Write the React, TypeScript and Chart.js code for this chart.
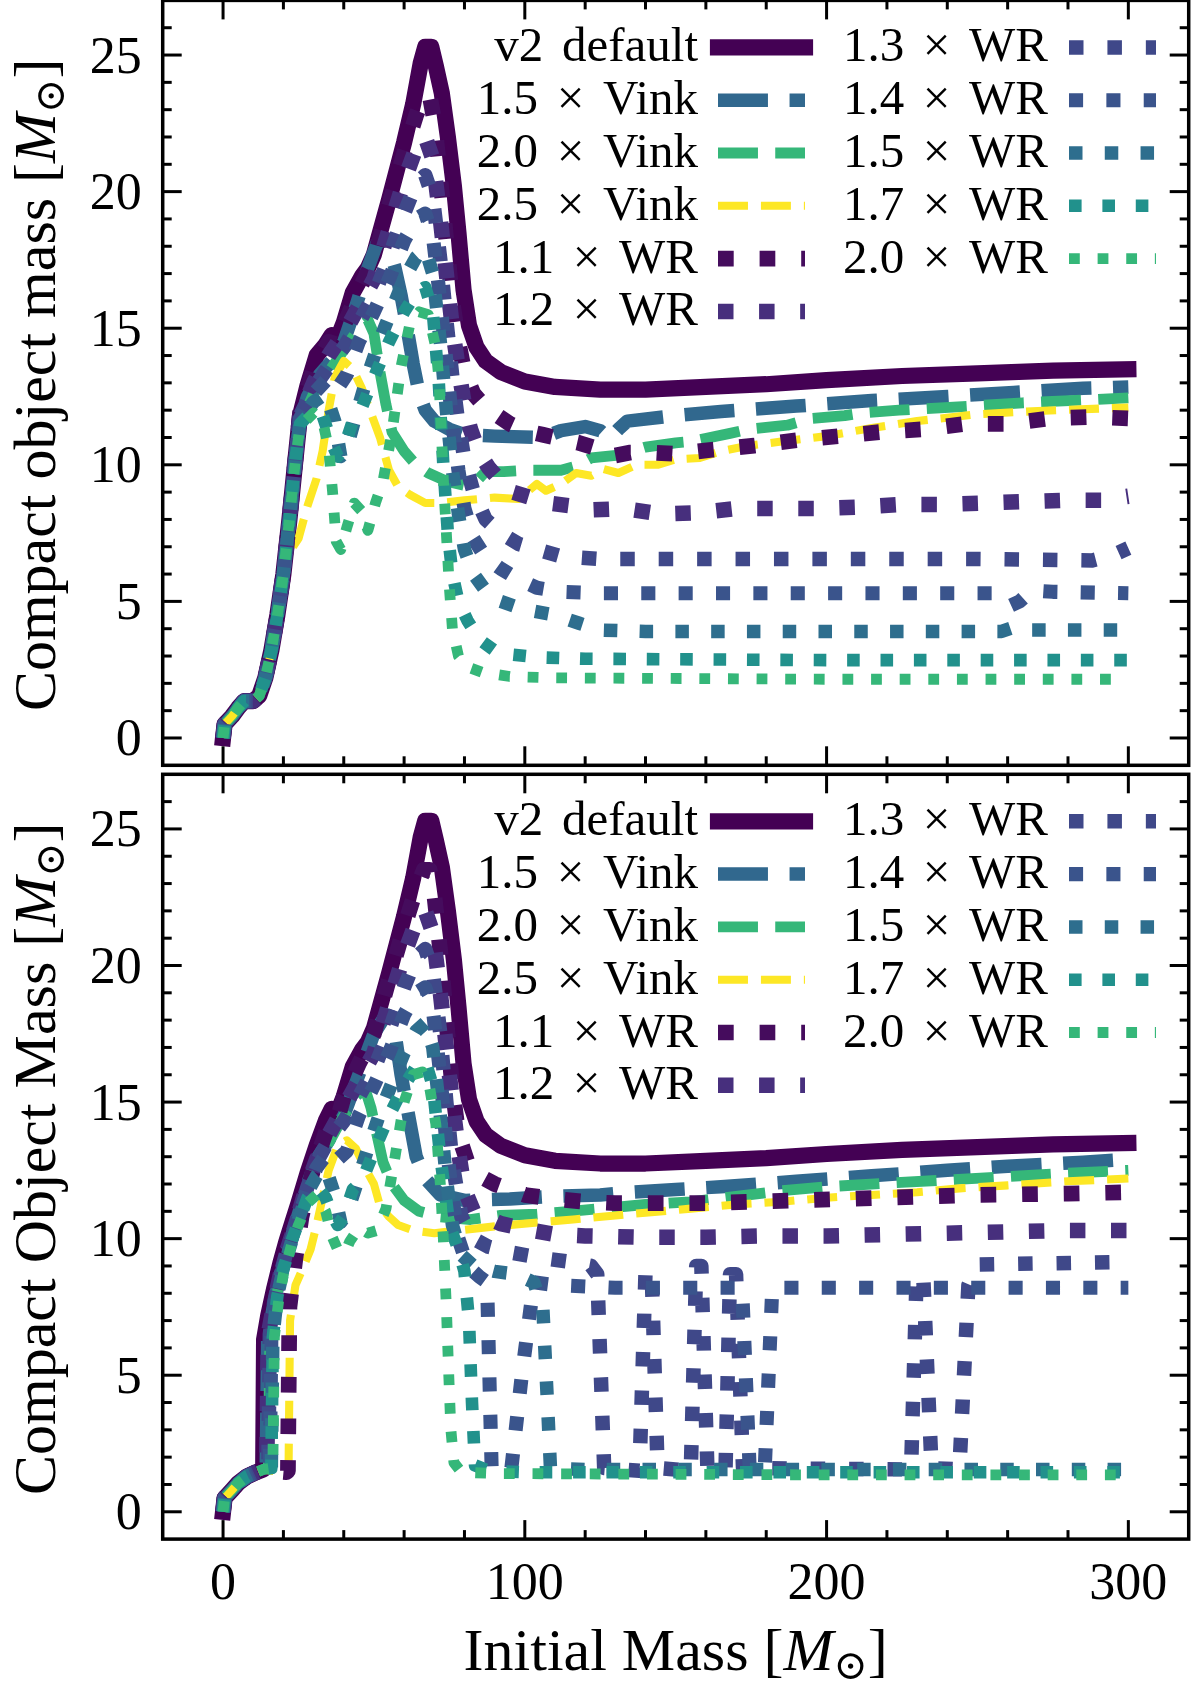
import { useEffect, useRef } from "react";
import { Chart, registerables } from "chart.js";

Chart.register(...registerables);

type Pt = [number, number];

const SERIF = '"Liberation Serif", "DejaVu Serif", serif';

// axes
const xMin = -20;
const xMax = 320;
const yMin = -1;
const yMax = 27;
const xMajor = [0, 100, 200, 300];
const xMinor = [20, 40, 60, 80, 120, 140, 160, 180, 220, 240, 260, 280];
const yMajor = [0, 5, 10, 15, 20, 25];
const yMinor = [1, 2, 3, 4, 6, 7, 8, 9, 11, 12, 13, 14, 16, 17, 18, 19, 21, 22, 23, 24, 26];

// series (same order in both panels)
const labels = [
  "v2 default",
  "1.5 × Vink",
  "2.0 × Vink",
  "2.5 × Vink",
  "1.1 × WR",
  "1.2 × WR",
  "1.3 × WR",
  "1.4 × WR",
  "1.5 × WR",
  "1.7 × WR",
  "2.0 × WR",
];
const colors = [
  "#440154", "#31688e", "#35b779", "#fde725",
  "#450c5d", "#472f7d", "#3f4889", "#3a548c", "#2e6e8e", "#21918c", "#35b779",
];
const widths = [16.2, 13.5, 10.8, 8.1, 15.7, 15.5, 14.5, 14.1, 13.5, 12.6, 10.8];
const kinds = [
  "solid", "dashed", "dashed", "dashed",
  "dotted", "dotted", "dotted", "dotted", "dotted", "dotted", "dotted",
];

// ---- top panel ----
const topRise: Pt[] = [[0, 0], [0.5, 0.5], [3, 0.8], [5, 1.1], [7, 1.35], [10, 1.35], [12, 1.55], [14, 2.2], [16, 3.2], [18, 4.5], [20, 6.0], [22, 8.0], [24, 10.2]];

const v2Tail: Pt[] = [[36, 14.75], [37.5, 14.5], [40, 15.2], [43, 16.3], [46, 16.9], [48, 17.2], [50, 17.7], [55, 19.7], [60, 21.8], [63, 23.2], [65.5, 24.7], [67, 25.3], [69, 25.3], [70.5, 24.6], [72.5, 23.6], [74.5, 22.0], [76.5, 20.2], [78, 18.5], [79.7, 16.4], [81.5, 15.1], [84, 14.3], [87, 13.8], [92, 13.4], [100, 13.05], [110, 12.85], [125, 12.75], [140, 12.75], [160, 12.85], [180, 12.95], [200, 13.1], [225, 13.25], [250, 13.35], [275, 13.45], [300, 13.5]];

const topV2: Pt[] = [...topRise, [25.5, 11.8], [28, 12.9], [31, 14.0], [34, 14.4], ...v2Tail];
const topVink15: Pt[] = [...topRise, [25.5, 11.6], [28, 12.5], [32, 13.3], [36, 13.8], [40, 14.5], [44, 15.8], [48, 17.2], [51, 18.1], [53, 18.3], [55, 18.0], [57, 17.2], [59, 16.2], [61, 15.0], [63, 13.7], [65, 12.6], [67, 12.0], [70, 11.6], [75, 11.3], [80, 11.1], [90, 11.05], [106, 11.0], [112, 11.25], [120, 11.4], [125, 11.25], [128, 10.95], [131, 11.3], [134, 11.6], [150, 11.8], [165, 11.95], [190, 12.15], [215, 12.35], [240, 12.5], [262, 12.65], [285, 12.8], [300, 12.85]];
const topVink20: Pt[] = [...topRise, [25.5, 11.5], [30, 12.6], [35, 13.4], [40, 14.2], [45, 15.0], [48, 15.3], [50, 14.8], [52, 13.4], [54, 12.2], [56, 11.2], [60, 10.5], [64, 10.0], [68, 9.7], [74, 9.4], [80, 9.25], [84, 9.4], [87, 9.75], [93, 9.75], [100, 9.8], [112, 9.8], [117, 9.95], [122, 10.25], [131, 10.35], [140, 10.65], [150, 10.8], [155, 10.85], [168, 11.15], [174, 11.3], [187, 11.45], [195, 11.7], [206, 11.8], [212, 11.9], [224, 12.0], [245, 12.13], [265, 12.27], [285, 12.37], [300, 12.45]];
const topVink25: Pt[] = [[0, 0], [0.5, 0.5], [3, 0.8], [5, 1.1], [7, 1.35], [10, 1.35], [12, 1.55], [14, 2.2], [16, 3.2], [18, 4.5], [20, 5.8], [22, 6.8], [25, 7.3], [28, 8.5], [31, 9.5], [33, 10.5], [35, 12.0], [37, 13.2], [40, 13.8], [43, 13.5], [46, 12.8], [49, 11.9], [52, 11.0], [55, 9.8], [58, 9.2], [62, 8.9], [67, 8.6], [72, 8.6], [80, 8.7], [90, 8.8], [98, 8.75], [104, 9.3], [107, 9.05], [112, 9.3], [117, 9.7], [122, 9.6], [126, 9.85], [131, 9.7], [137, 10.0], [144, 10.0], [150, 10.2], [158, 10.25], [165, 10.5], [174, 10.7], [185, 10.85], [200, 11.05], [215, 11.35], [230, 11.6], [250, 11.85], [270, 11.97], [300, 12.1]];
const topWr11: Pt[] = [...topRise, [25.5, 11.9], [30, 13.5], [35, 14.5], [38, 14.4], [40, 15.1], [45, 16.4], [50, 17.5], [55, 19.5], [60, 21.4], [64, 22.8], [66.5, 23.5], [68.5, 23.5], [70, 22.6], [72, 20.5], [74, 18.2], [76, 16.0], [78, 14.5], [80, 13.4], [83, 12.6], [87, 12.1], [91, 11.8], [95, 11.5], [100, 11.25], [106, 11.1], [112, 10.95], [118, 10.8], [124, 10.6], [128, 10.3], [135, 10.45], [142, 10.45], [150, 10.4], [162, 10.55], [176, 10.7], [190, 10.9], [204, 11.05], [218, 11.2], [232, 11.3], [246, 11.5], [260, 11.5], [274, 11.7], [288, 11.75], [300, 11.7]];
const topWr12: Pt[] = [...topRise, [25.5, 11.8], [30, 13.0], [35, 14.0], [40, 14.8], [45, 15.8], [50, 16.8], [55, 18.6], [60, 20.4], [64, 21.6], [67, 22.0], [69.5, 21.2], [72, 19.0], [74, 17.0], [76, 15.0], [78, 13.5], [80, 12.2], [82, 11.3], [85, 10.4], [88, 9.9], [92, 9.4], [96, 9.0], [102, 8.8], [108, 8.6], [115, 8.5], [122, 8.35], [133, 8.4], [145, 8.2], [158, 8.25], [170, 8.4], [184, 8.4], [197, 8.4], [210, 8.45], [225, 8.55], [238, 8.55], [252, 8.6], [265, 8.65], [278, 8.7], [291, 8.7], [300, 8.85]];
const topWr13: Pt[] = [...topRise, [25.5, 11.8], [30, 12.8], [35, 13.6], [40, 14.3], [45, 15.2], [50, 16.2], [55, 17.6], [60, 19.2], [64, 20.3], [67, 20.6], [69.5, 19.8], [72, 17.5], [74, 15.3], [76, 13.2], [78, 11.5], [80, 10.2], [83, 9.0], [87, 8.0], [92, 7.5], [98, 7.1], [104, 6.9], [112, 6.65], [125, 6.55], [200, 6.55], [250, 6.55], [288, 6.5], [295, 6.7], [300, 6.95]];
const topWr14: Pt[] = [...topRise, [25.5, 11.7], [30, 12.6], [35, 13.2], [38, 12.8], [41, 13.3], [45, 14.5], [50, 15.6], [55, 16.8], [60, 18.2], [64, 19.0], [67, 19.2], [69.5, 18.4], [72, 16.0], [74, 13.8], [76, 11.5], [78, 9.8], [80, 8.4], [83, 7.3], [87, 6.6], [92, 6.2], [98, 5.8], [104, 5.5], [112, 5.35], [125, 5.3], [200, 5.3], [255, 5.3], [258, 5.05], [261, 4.85], [264, 5.0], [268, 5.4], [275, 5.35], [300, 5.3]];
const topWr15: Pt[] = [...topRise, [25.5, 11.6], [30, 12.3], [34, 12.6], [37, 11.6], [39, 10.3], [41, 10.6], [44, 11.8], [48, 13.3], [52, 14.6], [56, 15.7], [60, 16.8], [64, 17.6], [67, 17.9], [69.5, 17.0], [72, 14.5], [74, 12.0], [76, 9.8], [78, 8.2], [80, 6.9], [83, 6.0], [87, 5.4], [92, 5.0], [100, 4.7], [110, 4.5], [118, 4.2], [125, 3.95], [140, 3.9], [200, 3.9], [258, 3.9], [262, 4.05], [266, 3.95], [300, 3.95]];
const topWr17: Pt[] = [...topRise, [25.5, 11.5], [30, 12.0], [33, 11.8], [36, 10.8], [38, 10.3], [40, 10.6], [43, 11.6], [46, 12.1], [50, 13.2], [55, 14.5], [60, 15.6], [64, 16.3], [67, 16.5], [69.5, 15.6], [71.5, 13.0], [73, 10.0], [74.5, 7.5], [76, 6.0], [78, 5.0], [81, 4.3], [85, 3.6], [90, 3.2], [96, 3.05], [105, 2.95], [120, 2.9], [200, 2.85], [300, 2.85]];
const topWr20: Pt[] = [...topRise, [25.5, 11.4], [30, 11.9], [33, 11.6], [35, 10.6], [36.3, 9.0], [37.5, 7.2], [39, 6.9], [41, 7.7], [43.5, 8.6], [46, 8.3], [48, 7.6], [50.5, 8.6], [53, 9.4], [56, 11.2], [59, 13.6], [62, 15.2], [65, 15.6], [68, 15.5], [70.5, 14.3], [71.5, 13.2], [72.3, 11.3], [73, 9.5], [74, 7.5], [75, 5.5], [76, 4.0], [78, 3.0], [81, 2.6], [86, 2.4], [95, 2.25], [110, 2.2], [200, 2.15], [300, 2.15]];

// ---- bottom panel ----
const bottomRise: Pt[] = [[0, 0], [0.5, 0.5], [3, 0.8], [5, 1.05], [8, 1.3], [11, 1.45], [13.3, 1.55]];

const botV2: Pt[] = [...bottomRise, [13.6, 6.3], [15, 7.2], [17, 8.2], [19, 9.1], [21, 9.9], [23, 10.6], [25, 11.3], [28, 12.4], [31, 13.4], [34, 14.3], ...v2Tail];
const botVink15: Pt[] = [...bottomRise, [14.3, 1.6], [14.8, 6.4], [17, 7.7], [19, 8.7], [21, 9.5], [23, 10.2], [25, 10.9], [28, 12.0], [31, 12.9], [35, 13.6], [40, 14.5], [45, 16.0], [50, 17.5], [54, 18.2], [57, 17.5], [59, 16.0], [61, 14.8], [64, 13.0], [67, 12.2], [72, 11.6], [80, 11.4], [95, 11.45], [110, 11.55], [125, 11.6], [135, 11.7], [150, 11.8], [165, 11.9], [190, 12.1], [215, 12.3], [240, 12.5], [260, 12.65], [285, 12.8], [300, 12.9]];
const botVink20: Pt[] = [...bottomRise, [15, 1.6], [15.5, 6.4], [17, 7.5], [19, 8.6], [21, 9.4], [23, 10.1], [25, 10.8], [28, 11.8], [31, 12.7], [35, 13.5], [40, 14.5], [44, 15.2], [47, 15.5], [49, 14.8], [51, 13.8], [53, 12.8], [56, 12.0], [60, 11.4], [65, 11.0], [72, 10.8], [82, 10.7], [92, 10.85], [104, 10.9], [115, 11.0], [125, 11.1], [140, 11.25], [155, 11.35], [170, 11.55], [185, 11.75], [200, 11.9], [220, 12.03], [240, 12.15], [260, 12.27], [280, 12.4], [300, 12.5]];
const botVink25: Pt[] = [...bottomRise, [16, 1.5], [21, 1.45], [21.7, 1.5], [22.2, 7.0], [24, 8.3], [26, 8.8], [29, 9.6], [31, 10.5], [33, 11.5], [35, 12.5], [38, 13.4], [41, 13.6], [44, 13.3], [47, 12.6], [50, 12.0], [52, 11.2], [55, 10.8], [58, 10.5], [63, 10.3], [70, 10.2], [78, 10.3], [90, 10.45], [105, 10.6], [116, 10.7], [130, 10.85], [140, 10.95], [155, 11.1], [170, 11.25], [185, 11.35], [200, 11.5], [215, 11.6], [230, 11.7], [245, 11.85], [260, 11.95], [280, 12.1], [300, 12.2]];
const botWr11: Pt[] = [...bottomRise, [16, 1.5], [21, 1.45], [21.5, 1.5], [22, 7.5], [24, 9.3], [26, 10.8], [30, 12.6], [35, 14.2], [38, 14.4], [40, 15.2], [45, 16.4], [50, 17.5], [55, 19.5], [60, 21.4], [64, 22.8], [66.5, 23.5], [68.5, 23.5], [70, 22.6], [72, 20.5], [74, 18.0], [76, 15.5], [78, 13.8], [81, 12.8], [85, 12.3], [90, 12.0], [100, 11.6], [110, 11.45], [120, 11.35], [130, 11.3], [160, 11.3], [190, 11.4], [220, 11.5], [250, 11.6], [280, 11.65], [300, 11.7]];
const botWr12: Pt[] = [...bottomRise, [14.5, 1.6], [15, 6.5], [17, 7.7], [19, 8.7], [21, 9.5], [23, 10.2], [25, 10.9], [28, 12.0], [31, 12.9], [35, 13.8], [40, 14.8], [45, 15.8], [50, 16.8], [55, 18.6], [60, 20.4], [64, 21.6], [67, 22.0], [69.5, 21.2], [72, 19.0], [74, 17.0], [76, 15.0], [78, 13.2], [80, 11.8], [83, 11.0], [87, 10.8], [92, 10.55], [100, 10.35], [110, 10.15], [120, 10.1], [140, 10.05], [160, 10.05], [180, 10.1], [200, 10.1], [220, 10.15], [240, 10.2], [260, 10.25], [280, 10.3], [300, 10.3]];
const botWr13: Pt[] = [...bottomRise, [15, 1.6], [15.5, 6.5], [17, 7.7], [19, 8.7], [21, 9.5], [23, 10.2], [25, 10.9], [28, 11.9], [31, 12.8], [35, 13.6], [40, 14.3], [45, 15.2], [50, 16.2], [55, 17.6], [60, 19.2], [64, 20.3], [67, 20.6], [69.5, 19.8], [72, 17.5], [74, 15.0], [76, 12.8], [79, 10.8], [83, 10.0], [88, 9.7], [95, 9.5], [105, 9.3], [115, 9.15], [122, 9.0], [124, 8.7], [126.3, 1.6], [138, 1.5], [140, 8.8], [142, 8.9], [144, 1.6], [155, 1.5], [156.8, 9.0], [158.5, 9.0], [160.5, 1.6], [166.5, 1.5], [168, 8.7], [170, 8.7], [172.3, 1.6], [228, 1.55], [229.8, 8.5], [232, 8.7], [234.8, 1.6], [244, 1.55], [247, 8.3], [250, 9.05], [275, 9.1], [300, 9.15]];
const botWr14: Pt[] = [...bottomRise, [15.5, 1.6], [16, 6.4], [17, 7.6], [19, 8.6], [21, 9.4], [23, 10.1], [25, 10.8], [28, 11.8], [31, 12.6], [35, 13.2], [38, 12.9], [41, 13.2], [45, 14.5], [50, 15.6], [55, 16.8], [60, 18.2], [64, 19.0], [67, 19.2], [69.5, 18.4], [72, 16.0], [74, 13.5], [76, 11.5], [78, 10.0], [81, 9.0], [85, 8.6], [87.5, 8.4], [89, 1.6], [95.5, 1.55], [99, 5.0], [103, 8.4], [110, 8.3], [130, 8.2], [172, 8.2], [174.5, 1.6], [179.5, 1.55], [182, 8.2], [220, 8.2], [260, 8.2], [300, 8.2]];
const botWr15: Pt[] = [...bottomRise, [16, 1.6], [16.5, 6.4], [18, 7.9], [20, 8.9], [23, 10.0], [25, 10.7], [28, 11.7], [31, 12.3], [34, 12.6], [37, 11.6], [39, 10.6], [41, 10.9], [44, 11.9], [48, 13.3], [52, 14.6], [56, 15.7], [60, 16.8], [64, 17.6], [67, 17.9], [69.5, 17.0], [72, 14.5], [74, 12.2], [76, 10.5], [79, 9.4], [83, 9.0], [90, 8.8], [97, 8.7], [103, 8.4], [106, 7.4], [107.5, 4.0], [108.5, 1.6], [120, 1.55], [200, 1.55], [300, 1.55]];
const botWr17: Pt[] = [...bottomRise, [16, 1.6], [16.5, 6.4], [18, 7.9], [20, 8.9], [23, 10.0], [25, 10.6], [28, 11.5], [31, 11.9], [34, 11.5], [36, 10.9], [38, 10.5], [40, 10.8], [43, 11.8], [46, 12.1], [50, 13.2], [55, 14.5], [60, 15.6], [64, 16.3], [67, 16.5], [69.5, 15.6], [72, 13.0], [75, 10.5], [78, 9.6], [80, 8.8], [81.5, 7.0], [82.5, 4.0], [83.5, 1.7], [88, 1.5], [100, 1.45], [200, 1.45], [300, 1.45]];
const botWr20: Pt[] = [...bottomRise, [16.5, 1.6], [17, 6.4], [18.5, 7.8], [20, 8.7], [23, 9.9], [25, 10.5], [28, 11.3], [31, 11.6], [34, 11.0], [36, 10.1], [38, 9.6], [40.5, 9.5], [42, 9.9], [45, 10.4], [48, 10.2], [51, 10.3], [54, 11.1], [57, 13.0], [60, 15.0], [63, 16.0], [66, 16.1], [68.5, 15.5], [70.5, 14.2], [72, 12.0], [73, 10.0], [74, 7.5], [74.8, 5.0], [75.5, 3.0], [76.5, 1.8], [79, 1.45], [90, 1.4], [200, 1.35], [300, 1.35]];

const topSeries = [topV2, topVink15, topVink20, topVink25, topWr11, topWr12, topWr13, topWr14, topWr15, topWr17, topWr20];
const bottomSeries = [botV2, botVink15, botVink20, botVink25, botWr11, botWr12, botWr13, botWr14, botWr15, botWr17, botWr20];

function dashFor(i: number): number[] {
  const w = widths[i];
  if (kinds[i] === "dashed") return [3.7 * w, 1.6 * w];
  if (kinds[i] === "dotted") return [w, 1.65 * w];
  return [];
}

type Run = { text: string; font: string; dy?: number };

function drawRuns(ctx: CanvasRenderingContext2D, runs: Run[], cx: number, y: number) {
  let total = 0;
  const ws = runs.map((r) => {
    ctx.font = r.font;
    const w = ctx.measureText(r.text).width;
    total += w;
    return w;
  });
  let x = cx - total / 2;
  ctx.textAlign = "left";
  runs.forEach((r, k) => {
    ctx.font = r.font;
    ctx.fillText(r.text, x, y + (r.dy || 0));
    x += ws[k];
  });
}

function titleRuns(text: string): Run[] {
  return [
    { text: text + " [", font: `60px ${SERIF}` },
    { text: "M", font: `italic 60px ${SERIF}` },
    { text: "\u2299", font: `41px ${SERIF}`, dy: 9 },
    { text: "]", font: `60px ${SERIF}` },
  ];
}

function overlay(yTitle: string, showX: boolean) {
  return {
    id: "overlay",
    afterDatasetsDraw(chart: any) {
      const ctx: CanvasRenderingContext2D = chart.ctx;
      const { left, right, top, bottom } = chart.chartArea;
      const xs = chart.scales.x;
      const ys = chart.scales.y;
      ctx.save();
      ctx.strokeStyle = "#000";
      ctx.fillStyle = "#000";
      ctx.setLineDash([]);
      ctx.lineCap = "butt";

      // inward ticks on all four sides
      const seg = (x0: number, y0: number, x1: number, y1: number) => {
        ctx.beginPath();
        ctx.moveTo(x0, y0);
        ctx.lineTo(x1, y1);
        ctx.stroke();
      };
      ctx.lineWidth = 3;
      xMajor.forEach((v) => {
        const p = xs.getPixelForValue(v);
        seg(p, bottom, p, bottom - 19);
        seg(p, top, p, top + 19);
      });
      xMinor.forEach((v) => {
        const p = xs.getPixelForValue(v);
        seg(p, bottom, p, bottom - 9);
        seg(p, top, p, top + 9);
      });
      yMajor.forEach((v) => {
        const p = ys.getPixelForValue(v);
        seg(left, p, left + 19, p);
        seg(right, p, right - 19, p);
      });
      yMinor.forEach((v) => {
        const p = ys.getPixelForValue(v);
        seg(left, p, left + 9, p);
        seg(right, p, right - 9, p);
      });
      ctx.lineWidth = 3.5;
      ctx.strokeRect(left, top, right - left, bottom - top);

      // tick labels
      ctx.font = `52px ${SERIF}`;
      ctx.textBaseline = "alphabetic";
      ctx.textAlign = "right";
      yMajor.forEach((v) => ctx.fillText(String(v), left - 21, ys.getPixelForValue(v) + 17.5));
      if (showX) {
        ctx.textAlign = "center";
        xMajor.forEach((v) => ctx.fillText(String(v), xs.getPixelForValue(v), bottom + 60));
        drawRuns(ctx, titleRuns("Initial Mass"), (left + right) / 2, bottom + 131);
      }

      // y title
      ctx.save();
      ctx.translate(55, (top + bottom) / 2 + 2);
      ctx.rotate(-Math.PI / 2);
      drawRuns(ctx, titleRuns(yTitle), 0, 0);
      ctx.restore();

      // legend, two columns, labels right-aligned before the handle
      const fs = 49;
      const gap = 0.38 * fs;
      labels.forEach((label, i) => {
        const col = i < 6 ? 0 : 1;
        const row = col === 0 ? i : i - 6;
        const cy = top + 47 + row * 52.8;
        const textRight = col === 0 ? 698 : 1048;
        const x0 = col === 0 ? 718 : 1069;
        const words = label.split(" ");
        ctx.font = `${fs}px ${SERIF}`;
        ctx.textAlign = "left";
        const ws = words.map((w) => ctx.measureText(w).width);
        const total = ws.reduce((a, b) => a + b, 0) + gap * (words.length - 1);
        let x = textRight - total;
        words.forEach((w, k) => {
          ctx.fillText(w, x, cy + 14);
          x += ws[k] + gap;
        });
        ctx.strokeStyle = colors[i];
        ctx.lineWidth = widths[i];
        ctx.setLineDash(dashFor(i));
        ctx.lineCap = kinds[i] === "solid" ? "square" : "butt";
        ctx.beginPath();
        ctx.moveTo(x0, cy);
        ctx.lineTo(x0 + 87, cy);
        ctx.stroke();
        ctx.setLineDash([]);
      });
      ctx.restore();
    },
  };
}

interface PanelProps {
  series: Pt[][];
  yTitle: string;
  showX: boolean;
  top: number;
  height: number;
  padTop: number;
  padBottom: number;
}

function Panel({ series, yTitle, showX, top, height, padTop, padBottom }: PanelProps) {
  const canvasRef = useRef<HTMLCanvasElement | null>(null);

  useEffect(() => {
    if (!canvasRef.current) return;
    const chart = new Chart(canvasRef.current, {
      type: "line",
      data: {
        datasets: series.map((pts, i) => ({
          label: labels[i],
          data: pts.map(([x, y]) => ({ x, y })),
          borderColor: colors[i],
          borderWidth: widths[i],
          borderDash: dashFor(i),
          borderCapStyle: kinds[i] === "solid" ? "square" : "butt",
          borderJoinStyle: "round",
          pointRadius: 0,
          fill: false,
          tension: 0,
          order: series.length - 1 - i, // matplotlib draws the first series at the bottom
        })),
      },
      options: {
        animation: false,
        responsive: false,
        devicePixelRatio: 1,
        events: [],
        layout: { padding: { left: 162.7, right: 11.3, top: padTop, bottom: padBottom } },
        plugins: {
          legend: { display: false },
          tooltip: { enabled: false },
        },
        scales: {
          x: { type: "linear", min: xMin, max: xMax, display: false },
          y: { type: "linear", min: yMin, max: yMax, display: false },
        },
      },
      plugins: [overlay(yTitle, showX)],
    } as any);

    // redraw once the local serif font is ready
    let alive = true;
    if (document.fonts && document.fonts.load) {
      Promise.all([
        document.fonts.load(`52px "Liberation Serif"`),
        document.fonts.load(`italic 60px "Liberation Serif"`),
      ]).then(() => {
        if (alive) chart.draw();
      });
    }

    return () => {
      alive = false;
      chart.destroy();
    };
  }, [series, yTitle, showX]);

  return (
    <canvas
      ref={canvasRef}
      width={1200}
      height={height}
      style={{ position: "absolute", left: 0, top, width: 1200, height }}
    />
  );
}

export default function App() {
  return (
    <div style={{ position: "absolute", left: 0, top: 0, width: 1200, height: 1683, background: "#fff" }}>
      <Panel series={topSeries} yTitle="Compact object mass" showX={false} top={0} height={770} padTop={0.4} padBottom={4.7} />
      <Panel series={bottomSeries} yTitle="Compact Object Mass" showX={true} top={770} height={913} padTop={4.3} padBottom={143.9} />
    </div>
  );
}
